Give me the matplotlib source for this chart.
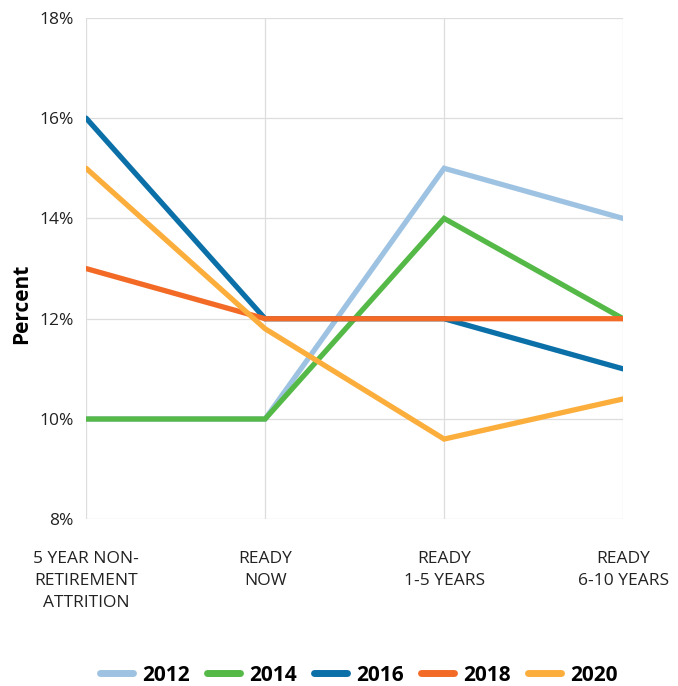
import numpy as np
import matplotlib.pyplot as plt

categories = ["5 YEAR NON-\nRETIREMENT\nATTRITION", "READY\nNOW", "READY\n1-5 YEARS", "READY\n6-10 YEARS"]
years = ["2012", "2014", "2016", "2018", "2020"]
v2012 = [10, 10, 15, 14]
v2014 = [10, 10, 14, 12]
v2016 = [16, 12, 12, 11]
v2018 = [13, 12, 12, 12]
v2020 = [15, 11.8, 9.6, 10.4]
series = [v2012, v2014, v2016, v2018, v2020]
colors = ["#9ec3e2", "#55b947", "#0b6fa8", "#f26a26", "#fbae3c"]

plt.rcParams['font.family'] = ['Open Sans', 'DejaVu Sans']

fig = plt.figure(figsize=(6.78, 6.86), dpi=100)
ax = fig.add_axes([0.127, 0.243, 0.792, 0.731])

x = np.arange(len(categories))
for vals, c, yr in zip(series, colors, years):
    ax.plot(x, vals, color=c, lw=3.8, label=yr, solid_capstyle="round", solid_joinstyle="miter")

ax.set_ylim(8, 18)
ax.set_xlim(0, 3)
ax.set_yticks(range(8, 19, 2))
ax.set_yticklabels([f"{t}%" for t in range(8, 19, 2)], fontsize=12.5, color="#222222")
ax.set_xticks(x)
ax.set_xticklabels(categories, fontsize=12.5, color="#222222", linespacing=1.47)
ax.tick_params(length=0, pad=9)
ax.tick_params(axis="x", pad=23)
ax.grid(True, color="#dddddd", lw=0.9)
ax.set_axisbelow(True)
for s in ax.spines.values():
    s.set_visible(False)
ax.set_ylabel("Percent", fontsize=15, fontweight="bold")
ax.yaxis.set_label_coords(-0.10, 0.43)

leg = ax.legend(loc="center", bbox_to_anchor=(0.508, -0.311), ncol=5, frameon=False,
                prop={"size": 15, "weight": "bold"}, handlelength=1.6, columnspacing=0.8,
                handletextpad=0.45, borderpad=0)
for h in leg.get_lines():
    h.set_linewidth(5)

fig.savefig("out.png", dpi=100)
